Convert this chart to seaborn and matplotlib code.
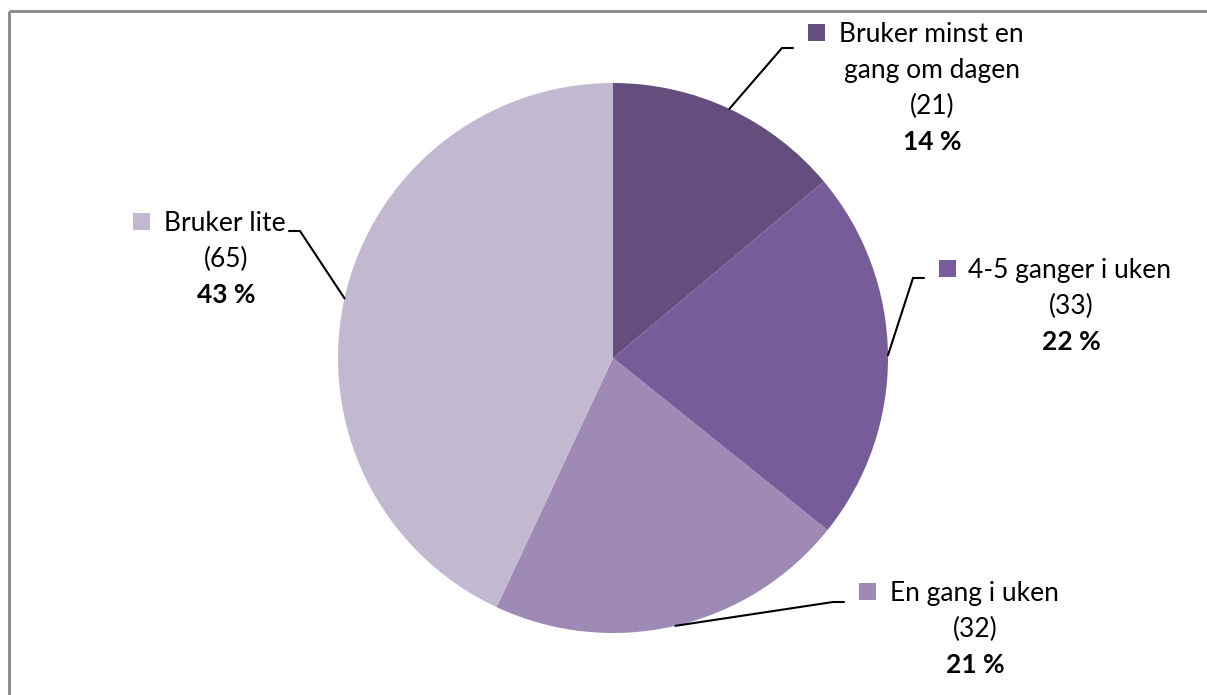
import numpy as np
import matplotlib
matplotlib.use("Agg")
import matplotlib.pyplot as plt
import seaborn as sns

categories = ["Bruker minst en gang om dagen", "4-5 ganger i uken", "En gang i uken", "Bruker lite"]
label_lines = [["Bruker minst en", "gang om dagen"], ["4-5 ganger i uken"], ["En gang i uken"], ["Bruker lite"]]
counts = [21, 33, 32, 65]
percents = [14, 22, 21, 43]
colors = ["#634E7E", "#775C99", "#9E8AB5", "#C2B8D0"]

sns.set_theme(style="white")
plt.rcParams['font.family'] = ['Lato', 'DejaVu Sans']

W, H = 1207, 695
fig = plt.figure(figsize=(W / 100, H / 100), dpi=100)
ax = fig.add_axes([0, 0, 1, 1])

def Y(y):
    return H - y

cx, cy, R = 613, 358, 275
ax.pie(counts, colors=colors, startangle=90, counterclock=False,
       center=(cx, Y(cy)), radius=R, frame=True,
       wedgeprops=dict(linewidth=0))
ax.set_xlim(0, W)
ax.set_ylim(0, H)
ax.set_aspect('equal')
ax.set_axis_off()

layouts = [
    dict(sq=808, tx=839, cxl=932, base=42, elbow=(782, 48), end=(793, 48)),
    dict(sq=939, tx=968, cxl=1071, base=278, elbow=(913, 278), end=(924, 278)),
    dict(sq=859, tx=890, cxl=975, base=601, elbow=(833, 602), end=(844, 602)),
    dict(sq=133, tx=164, cxl=226, base=231, elbow=(300, 231), end=(289, 231)),
]

total = sum(counts)
cum = 0
fs = 19
lh = 36
for i, (lines, c, p, col, L) in enumerate(zip(label_lines, counts, percents, colors, layouts)):
    mid = 90 - (cum + c / 2) / total * 360
    cum += c
    sx = cx + R * np.cos(np.radians(mid))
    sy = cy - R * np.sin(np.radians(mid))
    ex, ey = L['elbow']
    fx, fy = L['end']
    ax.plot([sx, ex, fx], [Y(sy), Y(ey), Y(fy)], color='black', lw=1.5,
            solid_joinstyle='miter')
    ax.add_patch(plt.Rectangle((L['sq'], Y(L['base'] - 1)), 17, 17, color=col, lw=0))
    b = L['base']
    ax.text(L['tx'], Y(b), lines[0], ha='left', va='baseline', fontsize=fs, color='black')
    for extra in lines[1:]:
        b += lh
        ax.text(L['cxl'], Y(b), extra, ha='center', va='baseline', fontsize=fs, color='black')
    b += lh
    ax.text(L['cxl'], Y(b), f"({c})", ha='center', va='baseline', fontsize=fs, color='black')
    b += lh
    ax.text(L['cxl'], Y(b), f"{p} %", ha='center', va='baseline', fontsize=fs,
            fontweight='bold', color='black')

ax.plot([9, 9], [Y(H + 5), Y(11)], color='#878787', lw=2, solid_capstyle='butt', clip_on=False)
ax.plot([9, W + 5], [Y(11), Y(11)], color='#878787', lw=2, solid_capstyle='butt', clip_on=False)

fig.savefig("out.png", dpi=100)
